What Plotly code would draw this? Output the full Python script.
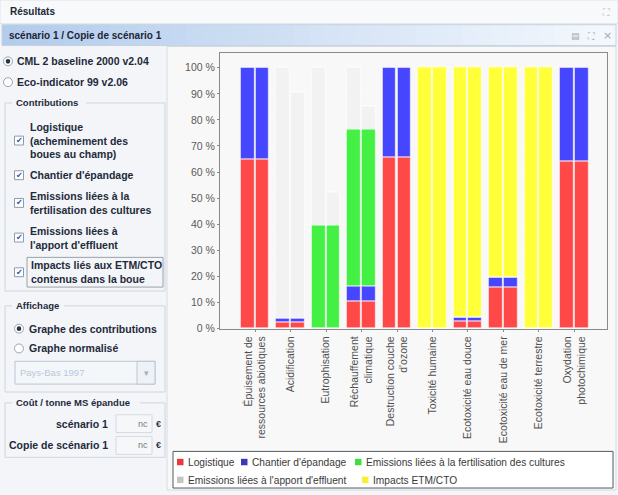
import plotly.graph_objects as go

W, H = 618, 495

# ---------------- data ----------------
categories = [
    "Épuisement de<br>ressources abiotiques",
    "Acidification",
    "Eutrophisation",
    "Réchauffement<br>climatique",
    "Destruction couche<br>d'ozone",
    "Toxicité humaine",
    "Ecotoxicité eau douce",
    "Ecotoxicité eau de mer",
    "Ecotoxicité terrestre",
    "Oxydation<br>photochimique",
]
scenarios = ["scénario 1", "Copie de scénario 1"]
series_names = [
    "Logistique",
    "Chantier d'épandage",
    "Emissions liées à la fertilisation des cultures",
    "Emissions liées à l'apport d'effluent",
    "Impacts ETM/CTO",
]
# values in % for scenario 1
logistique_s1 = [65, 2.4, 0, 10.2, 65.5, 0, 2.8, 15.6, 0, 64.1]
chantier_s1 = [35, 1.3, 0, 5.7, 34.5, 0, 1.3, 3.8, 0, 35.9]
fertilisation_s1 = [0, 0, 39.6, 60.6, 0, 0, 0, 0, 0, 0]
effluent_s1 = [0, 96.3, 60.4, 23.5, 0, 0, 0, 0, 0, 0]
etm_s1 = [0, 0, 0, 0, 0, 100, 95.9, 80.6, 100, 0]
# values in % for "Copie de scénario 1"
logistique_s2 = [65, 2.4, 0, 10.2, 65.5, 0, 2.8, 15.6, 0, 64.1]
chantier_s2 = [35, 1.3, 0, 5.7, 34.5, 0, 1.3, 3.8, 0, 35.9]
fertilisation_s2 = [0, 0, 39.6, 60.6, 0, 0, 0, 0, 0, 0]
effluent_s2 = [0, 87.0, 12.4, 8.5, 0, 0, 0, 0, 0, 0]
etm_s2 = [0, 0, 0, 0, 0, 100, 95.9, 80.6, 100, 0]

y_ticks = [0, 10, 20, 30, 40, 50, 60, 70, 80, 90, 100]
y_tick_labels = [f"{v} %" for v in y_ticks]

bar_colors = ["#ff4848", "#4646ff", "#44f044", "#f2f2f2", "#ffff3a"]
legend_colors = ["#e83a3a", "#3a3ab8", "#3ee03e", "#c4c4c4", "#f8f030"]

# ---------------- helpers ----------------
def px(x):
    return x / W

def py(y):
    return 1 - y / H

shapes = []
annotations = []

def rect(x0, y0, x1, y1, fill="rgba(0,0,0,0)", line="rgba(0,0,0,0)", lw=1, layer="below"):
    shapes.append(dict(type="rect", xref="paper", yref="paper",
                       x0=px(x0), x1=px(x1), y0=py(y1), y1=py(y0),
                       fillcolor=fill, line=dict(color=line, width=lw), layer=layer))

def text(x, y, s, size=10.5, color="#1e2a3a", bold=False, anchor="left", family="Liberation Sans"):
    annotations.append(dict(xref="paper", yref="paper", x=px(x), y=py(y),
                            text=("<b>%s</b>" % s) if bold else s, showarrow=False,
                            xanchor=anchor, yanchor="middle",
                            font=dict(size=size, color=color, family=family)))

def lerp(c1, c2, t):
    return "rgb(%d,%d,%d)" % tuple(round(a + (b - a) * t) for a, b in zip(c1, c2))

# ---------------- window chrome ----------------
# title bar "Résultats"
rect(0, 0, 618, 24, fill="#f7f9fb", line="#dfe4ea")
text(8, 12, "Résultats", size=10, bold=True, color="#1c2636")
text(606, 12, "⛶", size=9, color="#b8bec6", anchor="center", family="DejaVu Sans")
# gradient bar "scénario 1 / Copie de scénario 1"
n = 40
for i in range(n):
    x0 = 2 + i * (614 / n)
    rect(x0, 25, x0 + 614 / n + 0.6, 46, fill=lerp((178, 204, 236), (244, 248, 253), i / (n - 1)))
rect(2, 25, 616, 46, line="#c6d2e0")
text(7, 36, "scénario 1 / Copie de scénario 1", size=10, bold=True, color="#1c2636")
text(575, 36, "▤", size=9, color="#a4aab2", anchor="center", family="DejaVu Sans")
text(591, 36, "⛶", size=9, color="#a4aab2", anchor="center", family="DejaVu Sans")
text(607, 36, "×", size=11, color="#a4aab2", anchor="center", family="DejaVu Sans")

# chart panel background
rect(167, 47, 616, 495, fill="#f8f8f8", line="#d6dbe1")

# ---------------- left panel ----------------
def radio(x, y, selected):
    shapes.append(dict(type="circle", xref="paper", yref="paper",
                       x0=px(x - 4.5), x1=px(x + 4.5), y0=py(y + 4.5), y1=py(y - 4.5),
                       fillcolor="#ffffff", line=dict(color="#98a4b2", width=1), layer="above"))
    if selected:
        shapes.append(dict(type="circle", xref="paper", yref="paper",
                           x0=px(x - 2.3), x1=px(x + 2.3), y0=py(y + 2.3), y1=py(y - 2.3),
                           fillcolor="#2a3444", line=dict(color="#2a3444", width=0), layer="above"))

def checkbox(x, y):
    rect(x - 4.5, y - 4.5, x + 4.5, y + 4.5, fill="#ffffff", line="#8c9cb0", layer="above")
    text(x + 0.5, y, "✔", size=8, color="#2c56a8", anchor="center", family="DejaVu Sans")

radio(8, 62, True)
text(15, 62, "CML 2 baseline 2000 v2.04", bold=True)
radio(8, 83, False)
text(15, 83, "Eco-indicator 99 v2.06", bold=True)

# Contributions group
rect(5, 104, 165, 294, line="#cfd6de")
rect(12, 98, 86, 110, fill="#f3f5f8")
text(14, 104, "Contributions", bold=True, size=9.5)
checkbox(19, 142)
text(28, 128, "Logistique", bold=True)
text(28, 142, "(acheminement des", bold=True)
text(28, 156, "boues au champ)", bold=True)
checkbox(19, 177)
text(28, 177, "Chantier d'épandage", bold=True)
checkbox(19, 205)
text(28, 198, "Emissions liées à la", bold=True)
text(28, 212, "fertilisation des cultures", bold=True)
checkbox(19, 240)
text(28, 233, "Emissions liées à", bold=True)
text(28, 247, "l'apport d'effluent", bold=True)
checkbox(19, 275)
rect(27, 260, 163, 290, line="#9aa2ac", layer="above")
text(29, 268, "Impacts liés aux ETM/CTO", bold=True)
text(29, 282, "contenus dans la boue", bold=True)

# Affichage group
rect(5, 309, 165, 396, line="#cfd6de")
rect(12, 303, 64, 315, fill="#f3f5f8")
text(14, 309, "Affichage", bold=True, size=9.5)
radio(19, 332, True)
text(27, 332, "Graphe des contributions", bold=True)
radio(19, 352, False)
text(27, 352, "Graphe normalisé", bold=True)
rect(15, 365, 155, 388, fill="#f4f7fa", line="#b9c6d4")
rect(137, 365, 155, 388, fill="#eef2f6", line="#b9c6d4")
text(18, 376.5, "Pays-Bas 1997", size=9.5, color="#b8c8dc")
text(146, 376.5, "▾", size=9, color="#9eb0c4", anchor="center", family="DejaVu Sans")

# Coût group
rect(5, 407, 165, 462, line="#cfd6de")
rect(12, 401, 140, 413, fill="#f3f5f8")
text(14, 407, "Coût / tonne MS épandue", bold=True, size=9.5)
text(110, 428, "scénario 1", bold=True, anchor="right")
rect(116, 419, 152, 437, fill="#f6f7f9", line="#d4dae0")
text(150, 428, "nc", size=9, color="#707a86", anchor="right")
text(158, 428, "€", size=9, color="#2a3444", anchor="center", bold=True)
text(110, 450, "Copie de scénario 1", bold=True, anchor="right")
rect(116, 441, 152, 459, fill="#f6f7f9", line="#d4dae0")
text(150, 450, "nc", size=9, color="#707a86", anchor="right")
text(158, 450, "€", size=9, color="#2a3444", anchor="center", bold=True)

# ---------------- chart ----------------
fig = go.Figure()
cat_idx = list(range(len(categories)))
offset = 0.21
bar_w = 0.39
data_s1 = [logistique_s1, chantier_s1, fertilisation_s1, effluent_s1, etm_s1]
data_s2 = [logistique_s2, chantier_s2, fertilisation_s2, effluent_s2, etm_s2]
for k, name in enumerate(series_names):
    for s, (scen, data) in enumerate(zip(scenarios, [data_s1, data_s2])):
        xs = [i + (-offset if s == 0 else offset) for i in cat_idx]
        fig.add_trace(go.Bar(
            x=xs, y=data[k], width=bar_w, name=name, legendgroup=name,
            showlegend=False,
            marker=dict(color=bar_colors[k],
                        line=dict(color="rgba(255,255,255,0.55)", width=1.2)),
            hovertemplate=scen + "<br>" + name + ": %{y:.1f} %<extra></extra>",
        ))

# manual legend
rect(173, 456, 613, 493, fill="#ffffff", line="#555a60", lw=1, layer="above")
legend_pos = [(177, 467), (241, 467), (355, 467), (177, 485), (362, 485)]
for (lx, ly), name, col in zip(legend_pos, series_names, legend_colors):
    rect(lx, ly - 3.5, lx + 6.5, ly + 3, fill=col, line=col, lw=0, layer="above")
    text(lx + 8.5, ly, name, size=10.2, color="#3a3a3a", family="Liberation Sans")

fig.update_layout(
    width=W, height=H,
    margin=dict(l=0, r=0, t=0, b=0),
    paper_bgcolor="#f3f5f8",
    plot_bgcolor="#c0c0c0",
    barmode="relative",
    bargap=0,
    showlegend=False,
    shapes=shapes,
    annotations=annotations,
    xaxis=dict(
        domain=[px(220), px(607)],
        range=[-0.99, 9.92],
        tickmode="array", tickvals=cat_idx, ticktext=categories,
        tickangle=-90,
        tickfont=dict(size=10.5, color="#505050", family="Liberation Sans"),
        showgrid=False, zeroline=False,
        showline=True, linecolor="#8a8a8a", mirror=True,
        ticks="outside", ticklen=2, tickcolor="#8a8a8a",
        fixedrange=True,
    ),
    yaxis=dict(
        domain=[py(332.5), py(54)],
        range=[-0.3, 105.5],
        tickmode="array", tickvals=y_ticks, ticktext=y_tick_labels,
        tickfont=dict(size=10.5, color="#5a5a5a", family="Liberation Sans"),
        showgrid=True, gridcolor="rgba(255,255,255,0.28)", gridwidth=1,
        zeroline=False,
        showline=True, linecolor="#8a8a8a", mirror=True,
        ticks="outside", ticklen=2, tickcolor="#8a8a8a",
        fixedrange=True,
    ),
)

fig.write_html(
    "out.html",
    config={"displayModeBar": False},
    post_script="document.body.style.margin='0';document.body.style.overflow='hidden';",
)
